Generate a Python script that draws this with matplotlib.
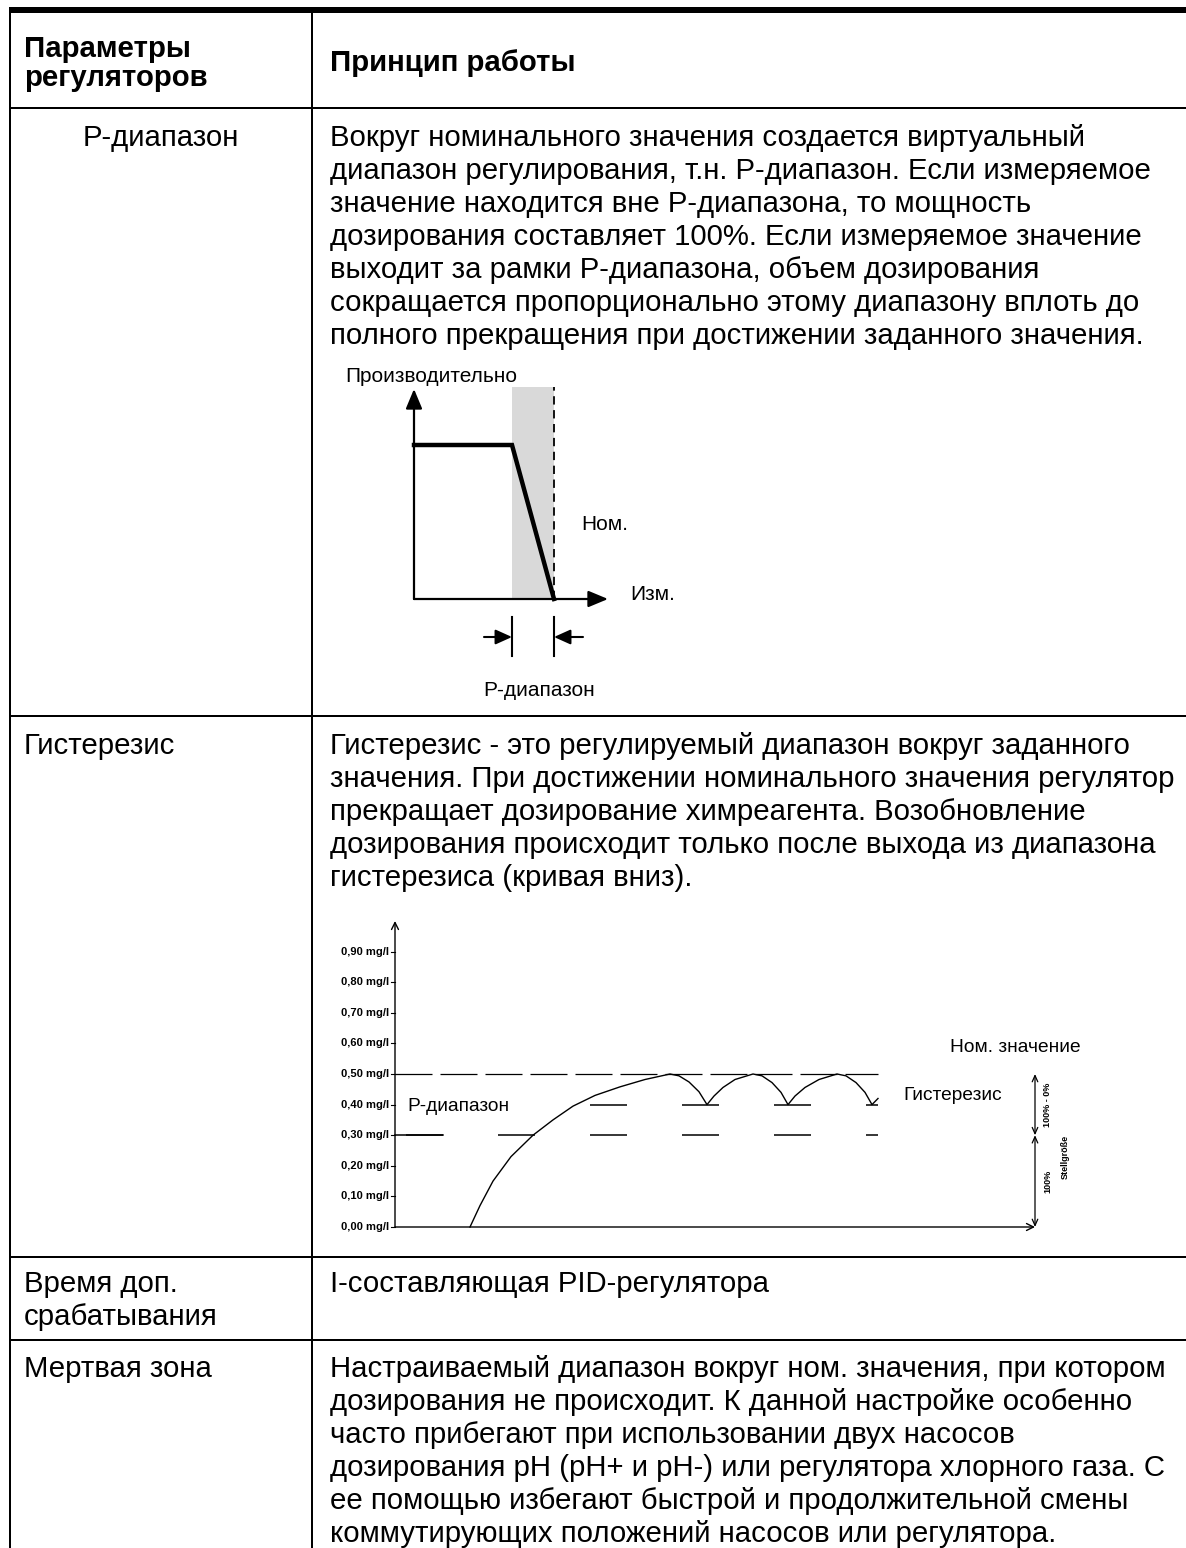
import matplotlib
matplotlib.use("Agg")
import matplotlib.pyplot as plt
from matplotlib.patches import Rectangle

plt.rcParams['font.family'] = ['Liberation Sans', 'DejaVu Sans']
plt.rcParams['lines.scale_dashes'] = False

W, H, DPI = 1186, 1548, 100
PT = 72.0 / DPI  # points per pixel

# ---------------- table content ----------------
header_left = ["Параметры", "регуляторов"]
header_right = "Принцип работы"
row_params = [["Р-диапазон"], ["Гистерезис"], ["Время доп.", "срабатывания"], ["Мертвая зона"]]
row_texts = [
    ["Вокруг номинального значения создается виртуальный",
     "диапазон регулирования, т.н. Р-диапазон. Если измеряемое",
     "значение находится вне Р-диапазона, то мощность",
     "дозирования составляет 100%. Если измеряемое значение",
     "выходит за рамки Р-диапазона, объем дозирования",
     "сокращается пропорционально этому диапазону вплоть до",
     "полного прекращения при достижении заданного значения."],
    ["Гистерезис - это регулируемый диапазон вокруг заданного",
     "значения. При достижении номинального значения регулятор",
     "прекращает дозирование химреагента. Возобновление",
     "дозирования происходит только после выхода из диапазона",
     "гистерезиса (кривая вниз)."],
    ["I-составляющая PID-регулятора"],
    ["Настраиваемый диапазон вокруг ном. значения, при котором",
     "дозирования не происходит. К данной настройке особенно",
     "часто прибегают при использовании двух насосов",
     "дозирования pH (pH+ и pH-) или регулятора хлорного газа. С",
     "ее помощью избегают быстрой и продолжительной смены",
     "коммутирующих положений насосов или регулятора."],
]

# ---------------- diagram 1: P-band ----------------
p_measured = [0.0, 0.70, 1.0]     # measured value relative to nominal
p_output = [100, 100, 0]          # dosing output, %
p_band = (0.70, 1.0)

# ---------------- diagram 2: hysteresis ----------------
tick_values = [0.00, 0.10, 0.20, 0.30, 0.40, 0.50, 0.60, 0.70, 0.80, 0.90]
tick_labels = ["0,00 mg/l", "0,10 mg/l", "0,20 mg/l", "0,30 mg/l", "0,40 mg/l",
               "0,50 mg/l", "0,60 mg/l", "0,70 mg/l", "0,80 mg/l", "0,90 mg/l"]
setpoint = 0.50
hyst_low = 0.40
pband_low = 0.30
curve_t = [7.5, 8.5, 9.8, 11.6, 13.8, 15.8, 17.8, 20.0, 22.5, 25.0, 27.5,
           28.4, 29.4, 30.4, 31.2,
           31.9, 32.8, 34.0, 35.8,
           36.7, 37.7, 38.6, 39.3,
           40.0, 41.0, 42.4, 44.2,
           45.1, 46.1, 47.0, 47.7,
           48.3]
curve_v = [0.00, 0.07, 0.15, 0.23, 0.30, 0.35, 0.395, 0.43, 0.458, 0.482, 0.50,
           0.494, 0.474, 0.442, 0.40,
           0.428, 0.456, 0.482, 0.50,
           0.494, 0.472, 0.440, 0.40,
           0.428, 0.456, 0.482, 0.50,
           0.494, 0.472, 0.440, 0.40,
           0.42]

fig = plt.figure(figsize=(W / DPI, H / DPI), dpi=DPI)
ax = fig.add_axes([0, 0, 1, 1])
ax.set_xlim(0, W)
ax.set_ylim(H, 0)
ax.axis('off')

# ---------------- table grid ----------------
x_left, x_div = 10, 312
y_top = 13
row_lines = [108, 716, 1257, 1340]
lw_grid = 2 * PT
ax.add_patch(Rectangle((x_left - 1, 7), W, 6, color='black', lw=0))
ax.plot([x_left, x_left], [y_top, H], color='black', lw=lw_grid, solid_capstyle='butt')
ax.plot([x_div, x_div], [y_top, H], color='black', lw=lw_grid, solid_capstyle='butt')
for y in row_lines:
    ax.plot([x_left, W], [y, y], color='black', lw=lw_grid, solid_capstyle='butt')

FS = 21.2
fs_px = FS / PT
cap_half = 0.358 * fs_px
LSTEP = 33.0


def put_lines(x, yc0, lines, ha='left', bold=False, step=LSTEP):
    for k, s in enumerate(lines):
        ax.text(x, yc0 + k * step + cap_half, s, fontsize=FS, ha=ha, va='baseline',
                fontweight='bold' if bold else 'normal')


put_lines(24, 46, header_left, bold=True, step=29)
put_lines(330, 60, [header_right], bold=True)

first_line = [135, 743, 1281, 1366]
for i, (p, t) in enumerate(zip(row_params, row_texts)):
    y0 = first_line[i]
    put_lines(330, y0, t)
    if i == 0:
        put_lines(161, y0, p, ha='center')
    else:
        put_lines(24, y0, p)

# ---------------- diagram 1 axes ----------------
# origin at px (414, 599); nominal at px 554 ; 100% at px 445
ox, oy = 414, 599
sx = 140.0      # px per unit measured
sy = 154.0 / 100  # px per %
x_min, x_max = -(ox - 330) / sx, (700 - ox) / sx
y_min, y_max = -(700 - oy) / sy, (oy - 360) / sy
a1 = fig.add_axes([330 / W, 1 - 700 / H, (700 - 330) / W, (700 - 360) / H])
a1.set_xlim(x_min, x_max)
a1.set_ylim(y_min, y_max)
a1.axis('off')
a1.add_patch(Rectangle((p_band[0], 0), p_band[1] - p_band[0], (oy - 387) / sy,
                       facecolor='#d9d9d9', edgecolor='none', zorder=1))
a1.plot([p_band[1], p_band[1]], [0, (oy - 387) / sy], color='black', lw=1.3,
        linestyle=(0, (6, 4)), zorder=2)
x_tip = (608 - ox) / sx
y_tip = (oy - 389) / sy
a1.annotate('', xy=(x_tip, 0), xytext=(0, 0),
            arrowprops=dict(arrowstyle='-|>,head_length=1.2,head_width=0.5', color='black',
                            lw=1.6, shrinkA=0, shrinkB=0), zorder=3)
a1.annotate('', xy=(0, y_tip), xytext=(0, 0),
            arrowprops=dict(arrowstyle='-|>,head_length=1.2,head_width=0.5', color='black',
                            lw=1.6, shrinkA=0, shrinkB=0), zorder=3)
a1.plot(p_measured, p_output, color='black', lw=3.2, solid_joinstyle='miter', zorder=4)
a1.text(-(ox - 345) / sx, (oy - 377) / sy, "Производительно", fontsize=15,
        va='center', ha='left')
a1.text((581 - ox) / sx, (oy - 524) / sy, "Ном.", fontsize=15, va='center', ha='left')
a1.text((630 - ox) / sx, (oy - 594) / sy, "Изм.", fontsize=15, va='center', ha='left')
# dimension marks for P-band
ybar0, ybar1 = -(617 - oy) / sy, -(656 - oy) / sy
ymid = -(637 - oy) / sy
for xb in p_band:
    a1.plot([xb, xb], [ybar0, ybar1], color='black', lw=1.5)
a1.annotate('', xy=(p_band[0], ymid), xytext=(p_band[0] - 28 / sx, ymid),
            arrowprops=dict(arrowstyle='-|>,head_length=1.0,head_width=0.45', color='black',
                            lw=1.5, shrinkA=0, shrinkB=0))
a1.annotate('', xy=(p_band[1], ymid), xytext=(p_band[1] + 29 / sx, ymid),
            arrowprops=dict(arrowstyle='-|>,head_length=1.0,head_width=0.45', color='black',
                            lw=1.5, shrinkA=0, shrinkB=0))
a1.text((483 - ox) / sx, -(690 - oy) / sy, "Р-диапазон", fontsize=15, va='center', ha='left')

# ---------------- diagram 2 axes ----------------
# origin at px (395, 1227); 1 time unit = 10 px; 0.1 mg/l = 30.6 px
gx, gy = 395, 1227
tsx = 10.0
vsy = 306.0
left_px, right_px, top_px, bot_px = 320, 1090, 905, 1245
a2 = fig.add_axes([left_px / W, 1 - bot_px / H, (right_px - left_px) / W, (bot_px - top_px) / H])
a2.set_xlim(-(gx - left_px) / tsx, (right_px - gx) / tsx)
a2.set_ylim(-(bot_px - gy) / vsy, (gy - top_px) / vsy)
a2.axis('off')
t_end_lines = (878 - gx) / tsx
t_xaxis_end = (1035 - gx) / tsx
a2.annotate('', xy=(0, 1.0), xytext=(0, 0),
            arrowprops=dict(arrowstyle='->,head_length=0.5,head_width=0.25', color='black',
                            lw=1.0, shrinkA=0, shrinkB=0))
a2.annotate('', xy=(t_xaxis_end, 0), xytext=(0, 0),
            arrowprops=dict(arrowstyle='->,head_length=0.5,head_width=0.25', color='black',
                            lw=1.0, shrinkA=0, shrinkB=0))
for v, lab in zip(tick_values, tick_labels):
    a2.plot([-4 / tsx, 0], [v, v], color='black', lw=0.8)
    a2.text(-6 / tsx, v, lab, fontsize=8.0, fontweight='bold', ha='right', va='center')
# reference lines
a2.plot([0, t_end_lines], [setpoint, setpoint], color='black', lw=0.9,
        linestyle=(0, (37 * PT, 8 * PT)))
a2.plot([0, t_end_lines], [pband_low, pband_low], color='black', lw=1.1,
        linestyle=(81 * PT, (37 * PT, 55 * PT)))
a2.plot([0, 48 / tsx], [pband_low, pband_low], color='black', lw=1.1)
t_h0 = (590 - gx) / tsx
a2.plot([t_h0, t_end_lines], [hyst_low, hyst_low], color='black', lw=1.1,
        linestyle=(0, (37 * PT, 55 * PT)))
a2.plot(curve_t, curve_v, color='black', lw=1.0)
a2.text((407 - gx) / tsx, 0.395, "Р-диапазон", fontsize=13.8, ha='left', va='center')
a2.text((950 - gx) / tsx, (gy - 1047) / vsy, "Ном. значение", fontsize=13.8,
        ha='left', va='center')
a2.text((903 - gx) / tsx, (gy - 1095) / vsy, "Гистерезис", fontsize=13.8,
        ha='left', va='center')
# dimension line on the right
td = (1035 - gx) / tsx
a2.annotate('', xy=(td, setpoint), xytext=(td, pband_low),
            arrowprops=dict(arrowstyle='<->,head_length=0.45,head_width=0.2', color='black',
                            lw=0.9, shrinkA=0, shrinkB=0))
a2.annotate('', xy=(td, pband_low), xytext=(td, 0),
            arrowprops=dict(arrowstyle='<->,head_length=0.45,head_width=0.2', color='black',
                            lw=0.9, shrinkA=0, shrinkB=0))
a2.text(td + 13 / tsx, (setpoint + pband_low) / 2, "100% - 0%", fontsize=6.5,
        fontweight='bold', rotation=90, ha='center', va='center')
a2.text(td + 13 / tsx, 0.15, "100%", fontsize=6.5, fontweight='bold', rotation=90,
        ha='center', va='center')
a2.text(td + 30 / tsx, 0.23, "Stellgröße", fontsize=6.5, fontweight='bold', rotation=90,
        ha='center', va='center')

fig.savefig("out.png", dpi=DPI)
